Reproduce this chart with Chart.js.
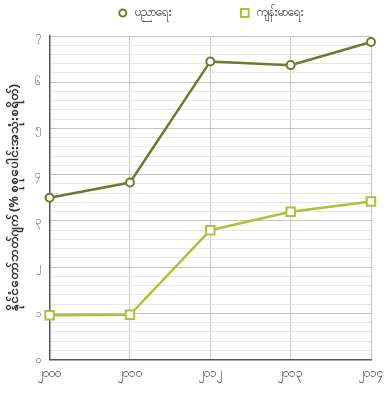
<!DOCTYPE html>
<html>
<head>
<meta charset="utf-8">
<script src="https://cdn.jsdelivr.net/npm/chart.js@4.4.1/dist/chart.umd.min.js"></script>
<style>
    html, body { margin: 0; padding: 0; background: #ffffff; }
    #wrap { position: relative; width: 390px; height: 394px; }
</style>
</head>
<body>
<div id="wrap"><canvas id="chart"></canvas></div>
<script>
// Static data
const years = ["၂၀၀၀", "၂၀၁၀", "၂၀၁၂", "၂၀၁၃", "၂၀၁၄"];
const educationValues = [3.5, 3.83, 6.45, 6.37, 6.87];
const healthValues = [0.96, 0.97, 2.8, 3.2, 3.42];
const yTickLabels = ["၀", "၁", "၂", "၃", "၄", "၅", "၆", "၇"];
const seriesNames = ["ပညာရေး", "ကျန်းမာရေး"];
const yTitle = "နိုင်ငံတော်ဘတ်ဂျက် (% စုစုပေါင်းအသုံးစရိတ်)";

const darkOlive = "#6c7c2c";
const yellowGreen = "#a8c43a";
const fontFamily = "Noto Sans, DejaVu Sans, sans-serif";

const isWhole = (v) => Math.abs(v - Math.round(v)) < 1e-6;

// Legend drawn on the canvas, spread wider than the built-in one allows
const topLegend = {
    id: "topLegend",
    afterDraw(chart) {
        const { ctx, chartArea } = chart;
        ctx.save();
        ctx.font = `12px ${fontFamily}`;
        ctx.textBaseline = "middle";
        const markerToText = 12;
        const itemGap = 73;
        const items = chart.data.datasets.map((ds) => ({
            ds,
            w: ctx.measureText(ds.label).width,
        }));
        const total =
            items.reduce((s, it) => s + markerToText + it.w, 0) +
            itemGap * (items.length - 1);
        let x = (chartArea.left + chartArea.right) / 2 - total / 2 + 3;
        const y = 13;
        items.forEach((it) => {
            ctx.fillStyle = "#ffffff";
            ctx.strokeStyle = it.ds.borderColor;
            ctx.lineWidth = 2;
            Chart.helpers.drawPoint(
                ctx,
                {
                    pointStyle: it.ds.pointStyle,
                    radius: it.ds.pointStyle === "rect" ? 5.5 : 3.5,
                    borderWidth: 2,
                    rotation: 0,
                },
                x,
                y
            );
            ctx.fillStyle = "#333333";
            ctx.fillText(it.ds.label, x + markerToText, y);
            x += markerToText + it.w + itemGap;
        });
        ctx.restore();
    },
};

const ctx = document.getElementById("chart");
new Chart(ctx, {
    type: "line",
    data: {
        labels: years,
        datasets: [
            {
                label: seriesNames[0],
                data: educationValues,
                borderColor: darkOlive,
                backgroundColor: "#ffffff",
                borderWidth: 2.5,
                pointStyle: "circle",
                pointRadius: 4,
                pointBorderWidth: 2,
                pointBackgroundColor: "#ffffff",
                pointBorderColor: darkOlive,
                tension: 0,
            },
            {
                label: seriesNames[1],
                data: healthValues,
                borderColor: yellowGreen,
                backgroundColor: "#ffffff",
                borderWidth: 2.5,
                pointStyle: "rect",
                pointRadius: 6,
                pointBorderWidth: 2,
                pointBackgroundColor: "#ffffff",
                pointBorderColor: yellowGreen,
                tension: 0,
            },
        ],
    },
    options: {
        animation: false,
        responsive: true,
        maintainAspectRatio: false,
        layout: {
            padding: { left: 6, right: 14, top: 36, bottom: 6 },
        },
        scales: {
            x: {
                offset: false,
                grid: {
                    color: "#c8c8c8",
                    lineWidth: 1,
                    drawTicks: false,
                },
                border: { color: "#555555", width: 1.5 },
                ticks: {
                    color: "#444444",
                    font: { size: 12, family: fontFamily },
                    padding: 7,
                    maxRotation: 0,
                },
            },
            y: {
                min: 0,
                max: 7,
                grid: {
                    color: (c) => (isWhole(c.tick.value) ? "#c4c4c4" : "#e6e6e6"),
                    lineWidth: 1,
                    drawTicks: false,
                },
                border: { color: "#555555", width: 1.5 },
                ticks: {
                    stepSize: 0.2,
                    autoSkip: false,
                    color: "#666666",
                    font: { size: 11, family: fontFamily },
                    padding: 9,
                    callback: (v) => (isWhole(v) ? yTickLabels[Math.round(v)] : ""),
                },
                title: {
                    display: true,
                    text: yTitle,
                    color: "#333333",
                    font: { size: 13, weight: "bold", family: fontFamily },
                    padding: { top: 0, bottom: 4 },
                },
            },
        },
        plugins: {
            legend: { display: false },
            tooltip: { enabled: false },
        },
    },
    plugins: [topLegend],
});
</script>
</body>
</html>
